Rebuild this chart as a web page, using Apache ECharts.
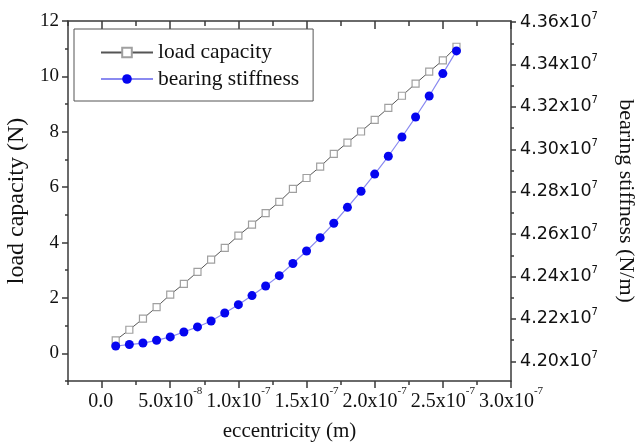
<!DOCTYPE html>
<html>
<head>
<meta charset="utf-8">
<script src="https://cdn.jsdelivr.net/npm/echarts@6/dist/echarts.min.js"></script>
<style>html,body{margin:0;padding:0;background:#fff}#c{width:641px;height:448px}</style>
</head>
<body>
<div id="c"></div>
<script>
// ---- data ----
var eccentricity = [1e-8,2e-8,3e-8,4e-8,5e-8,6e-8,7e-8,8e-8,9e-8,1.0e-7,1.1e-7,1.2e-7,1.3e-7,1.4e-7,1.5e-7,1.6e-7,1.7e-7,1.8e-7,1.9e-7,2.0e-7,2.1e-7,2.2e-7,2.3e-7,2.4e-7,2.5e-7,2.6e-7];
var loadCapacity = [0.47,0.85,1.25,1.67,2.12,2.51,2.94,3.38,3.81,4.25,4.65,5.06,5.47,5.94,6.33,6.74,7.20,7.61,8.01,8.43,8.86,9.30,9.74,10.17,10.58,11.07];
var bearingStiffness = [4.2072e7,4.2079e7,4.2086e7,4.2099e7,4.2115e7,4.2138e7,4.2162e7,4.2190e7,4.2228e7,4.2267e7,4.2310e7,4.2355e7,4.2404e7,4.2461e7,4.2520e7,4.2583e7,4.2651e7,4.2726e7,4.2802e7,4.2883e7,4.2967e7,4.3058e7,4.3152e7,4.3251e7,4.3357e7,4.3464e7];

var xTickValues = [0,5e-8,1.0e-7,1.5e-7,2.0e-7,2.5e-7,3.0e-7];
var xTickMant = ['0.0','5.0x10','1.0x10','1.5x10','2.0x10','2.5x10','3.0x10'];
var xTickExp = [' ','-8','-7','-7','-7','-7','-7'];
var xMinorValues = [-2.5e-8,2.5e-8,7.5e-8,1.25e-7,1.75e-7,2.25e-7,2.75e-7];

var yLeftTickValues = [0,2,4,6,8,10,12];
var yLeftTickLabels = ['0','2','4','6','8','10','12'];
var yLeftMinorValues = [-1,1,3,5,7,9,11];

var yRightTickValues = [4.20e7,4.22e7,4.24e7,4.26e7,4.28e7,4.30e7,4.32e7,4.34e7,4.36e7];
var yRightTickMant = ['4.20x10','4.22x10','4.24x10','4.26x10','4.28x10','4.30x10','4.32x10','4.34x10','4.36x10'];
var yRightTickExp = ['7','7','7','7','7','7','7','7','7'];
var yRightMinorValues = [4.21e7,4.23e7,4.25e7,4.27e7,4.29e7,4.31e7,4.33e7,4.35e7];

function nearestIndex(arr, v) {
  var best = 0, bd = Infinity;
  for (var i = 0; i < arr.length; i++) { var d = Math.abs(arr[i] - v); if (d < bd) { bd = d; best = i; } }
  return best;
}

var serif = '"Liberation Serif", "Times New Roman", serif';
var sans = '"DejaVu Sans", "Liberation Sans", sans-serif';
var axisColor = '#3a3a3a';

var X_MIN = -2.5e-8, X_MAX = 3.0e-7;
var YL_MIN = -1, YL_MAX = 12;
var YR_MIN = 4.1907e7, YR_MAX = 4.3605e7;

var chart = echarts.init(document.getElementById('c'), null, {renderer: 'canvas'});

var option = {
  backgroundColor: '#fff',
  animation: false,
  grid: {left: 68, right: 130, top: 21, bottom: 67, containLabel: false, outerBoundsMode: 'none'},
  legend: {
    left: 74, top: 29,
    orient: 'vertical',
    itemWidth: 52, itemHeight: 12, itemGap: 4.5,
    padding: [12.5, 14, 11, 26],
    borderColor: '#555', borderWidth: 1,
    textStyle: {fontFamily: serif, fontSize: 21.5, color: '#111'},
    data: ['load capacity', 'bearing stiffness']
  },
  xAxis: [
    {
      type: 'value', position: 'bottom', min: X_MIN, max: X_MAX,
      name: 'eccentricity (m)', nameLocation: 'middle', nameGap: 40,
      nameTextStyle: {fontFamily: serif, fontSize: 21, color: '#111'},
      axisLine: {show: true, onZero: false, lineStyle: {color: axisColor, width: 1.5}},
      axisTick: {show: true, inside: false, length: 7, customValues: xTickValues, lineStyle: {color: axisColor, width: 1.5}},
      axisLabel: {
        customValues: xTickValues, margin: 5,
        formatter: function (v) { var i = nearestIndex(xTickValues, v); return '{m|' + xTickMant[i] + '}{e|' + xTickExp[i] + '}'; },
        rich: {
          m: {fontFamily: serif, fontSize: 20, color: '#111'},
          e: {fontFamily: serif, fontSize: 11, color: '#111', padding: [0, 0, 20, 0]}
        }
      },
      splitLine: {show: false}
    },
    {
      type: 'value', position: 'bottom', min: X_MIN, max: X_MAX,
      axisLine: {show: false, onZero: false},
      axisTick: {show: true, inside: false, length: 4, customValues: xMinorValues, lineStyle: {color: axisColor, width: 1.5}},
      axisLabel: {show: false}, splitLine: {show: false}
    },
    {
      type: 'value', position: 'top', min: X_MIN, max: X_MAX,
      axisLine: {show: true, onZero: false, lineStyle: {color: axisColor, width: 1.5}},
      axisTick: {show: true, inside: true, length: 8, customValues: xTickValues, lineStyle: {color: axisColor, width: 1.5}},
      axisLabel: {show: false}, splitLine: {show: false}
    },
    {
      type: 'value', position: 'top', min: X_MIN, max: X_MAX,
      axisLine: {show: false, onZero: false},
      axisTick: {show: true, inside: true, length: 5, customValues: xMinorValues, lineStyle: {color: axisColor, width: 1.5}},
      axisLabel: {show: false}, splitLine: {show: false}
    }
  ],
  yAxis: [
    {
      type: 'value', position: 'left', min: YL_MIN, max: YL_MAX,
      name: 'load capacity (N)', nameLocation: 'middle', nameGap: 36, nameRotate: 90,
      nameTextStyle: {fontFamily: serif, fontSize: 24, color: '#111'},
      axisLine: {show: true, onZero: false, lineStyle: {color: axisColor, width: 1.5}},
      axisTick: {show: true, inside: false, length: 6, customValues: yLeftTickValues, lineStyle: {color: axisColor, width: 1.5}},
      axisLabel: {
        customValues: yLeftTickValues, margin: 9,
        formatter: function (v) { return yLeftTickLabels[nearestIndex(yLeftTickValues, v)]; },
        fontFamily: serif, fontSize: 19, color: '#111'
      },
      splitLine: {show: false}
    },
    {
      type: 'value', position: 'left', min: YL_MIN, max: YL_MAX,
      axisLine: {show: false, onZero: false},
      axisTick: {show: true, inside: false, length: 3, customValues: yLeftMinorValues, lineStyle: {color: axisColor, width: 1.5}},
      axisLabel: {show: false}, splitLine: {show: false}
    },
    {
      type: 'value', position: 'right', min: YR_MIN, max: YR_MAX,
      name: 'bearing stiffness (N/m)', nameLocation: 'middle', nameGap: 104, nameRotate: -90,
      nameTextStyle: {fontFamily: serif, fontSize: 22, color: '#111'},
      axisLine: {show: true, onZero: false, lineStyle: {color: axisColor, width: 1.5}},
      axisTick: {show: true, inside: false, length: 5, customValues: yRightTickValues, lineStyle: {color: axisColor, width: 1.5}},
      axisLabel: {
        customValues: yRightTickValues, margin: 9,
        formatter: function (v) { var i = nearestIndex(yRightTickValues, v); return '{m|' + yRightTickMant[i] + '}{e|' + yRightTickExp[i] + '}'; },
        rich: {
          m: {fontFamily: sans, fontSize: 17.5, color: '#111'},
          e: {fontFamily: sans, fontSize: 10, color: '#111', padding: [0, 0, 12, 0]}
        }
      },
      splitLine: {show: false}
    },
    {
      type: 'value', position: 'right', min: YR_MIN, max: YR_MAX,
      axisLine: {show: false, onZero: false},
      axisTick: {show: true, inside: false, length: 3, customValues: yRightMinorValues, lineStyle: {color: axisColor, width: 1.5}},
      axisLabel: {show: false}, splitLine: {show: false}
    }
  ],
  series: [
    {
      name: 'load capacity', type: 'line', xAxisIndex: 0, yAxisIndex: 0,
      data: eccentricity.map(function (x, i) { return [x, loadCapacity[i]]; }),
      symbol: 'rect', symbolSize: 7, showAllSymbol: true,
      lineStyle: {color: '#555', width: 1},
      itemStyle: {color: '#fff', borderColor: '#a0a0a0', borderWidth: 1.2},
      emphasis: {disabled: true}
    },
    {
      name: 'bearing stiffness', type: 'line', xAxisIndex: 0, yAxisIndex: 2,
      data: eccentricity.map(function (x, i) { return [x, bearingStiffness[i]]; }),
      symbol: 'circle', symbolSize: 9, showAllSymbol: true,
      lineStyle: {color: '#8a8af0', width: 1.2},
      itemStyle: {color: '#0505f0', borderWidth: 0},
      emphasis: {disabled: true}
    }
  ]
};
chart.setOption(option);
</script>
</body>
</html>
